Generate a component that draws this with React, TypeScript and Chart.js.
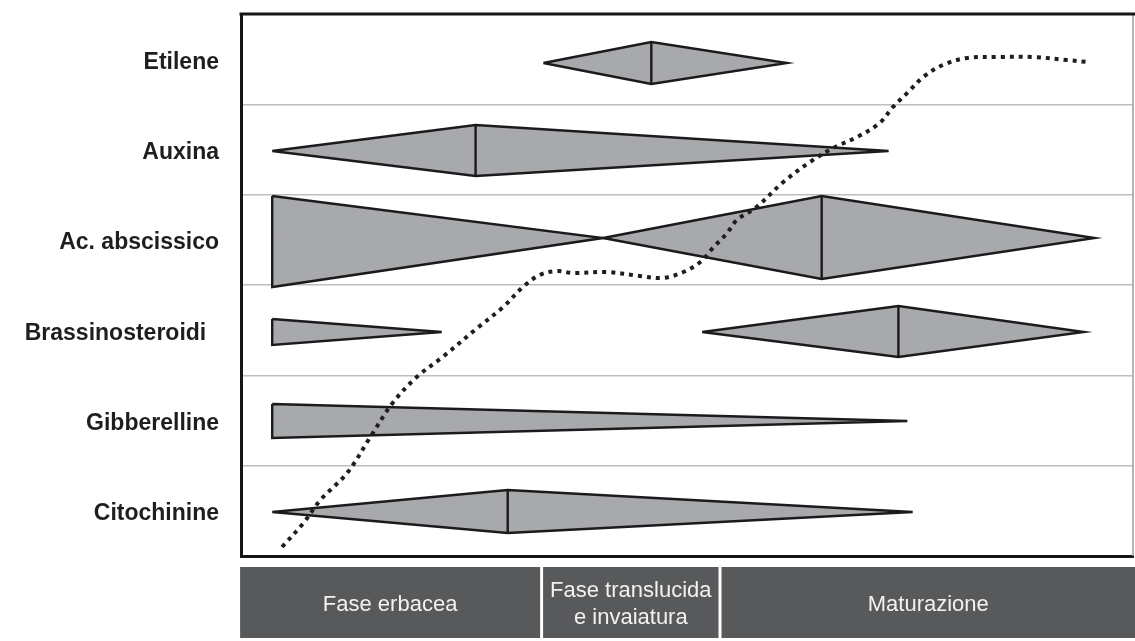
import React, { useEffect, useRef } from 'react';
import { Chart, registerables } from 'chart.js';

Chart.register(...registerables);

// Row labels (top to bottom)
const hormones = ['Etilene', 'Auxina', 'Ac. abscissico', 'Brassinosteroidi  ', 'Gibberelline', 'Citochinine'];

// Shapes, in data units: x = time (0–100), y = row axis (0–6, Etilene row 5–6 at top)
const etilenePeak: [number, number][] = [[33.9, 5.458], [46.0, 5.69], [61.2, 5.458], [46.0, 5.225]];
const auxinaPeak: [number, number][] = [[3.5, 4.484], [26.3, 4.771], [72.6, 4.484], [26.3, 4.207]];
const abscissicoEarly: [number, number][] = [[3.5, 3.985], [40.6, 3.52], [3.5, 2.978]];
const abscissicoPeak: [number, number][] = [[40.6, 3.52], [65.1, 3.985], [95.7, 3.52], [65.1, 3.067]];
const brassinoEarly: [number, number][] = [[3.5, 2.624], [22.5, 2.48], [3.5, 2.336]];
const brassinoPeak: [number, number][] = [[51.7, 2.48], [73.7, 2.768], [94.5, 2.48], [73.7, 2.203]];
const gibberellineEarly: [number, number][] = [[3.5, 1.683], [74.7, 1.495], [3.5, 1.306]];
const citochininePeak: [number, number][] = [[3.5, 0.487], [29.9, 0.731], [75.3, 0.487], [29.9, 0.255]];

// Berry growth curve (dotted)
const growthX = [4.6, 7.0, 8.9, 11.9, 14.5, 17.0, 19.7, 22.6, 26.5, 29.4, 31.6, 33.5, 35.4, 37.2, 41.0, 44.7, 47.3, 49.6, 51.5, 52.9, 54.5, 55.6, 57.8, 60.8, 63.8, 66.4, 69.1, 71.6, 73.1, 74.7, 76.5, 78.7, 81.4, 85.1, 88.8, 92.6, 94.8];
const growthY = [0.1, 0.365, 0.62, 0.919, 1.317, 1.694, 1.982, 2.203, 2.524, 2.757, 2.978, 3.111, 3.155, 3.133, 3.144, 3.1, 3.078, 3.144, 3.255, 3.41, 3.576, 3.72, 3.864, 4.14, 4.362, 4.517, 4.639, 4.794, 4.971, 5.126, 5.303, 5.436, 5.513, 5.524, 5.524, 5.491, 5.469];

// Phases along the time axis
const phaseLabels = [['Fase erbacea'], ['Fase translucida', 'e invaiatura'], ['Maturazione']];
const phaseBounds = [-0.1, 33.7, 53.7, 100.3];

const FILL = '#a8a9ac';
const STROKE = '#1b1b1b';

function polygon(points: [number, number][]) {
  const pts = points.map(([x, y]) => ({ x, y }));
  pts.push({ ...pts[0] });
  return {
    type: 'line' as const,
    data: pts,
    borderColor: STROKE,
    borderWidth: 2.4,
    backgroundColor: FILL,
    fill: 'shape' as any,
    pointRadius: 0,
    tension: 0,
    order: 2,
  };
}

function divider(points: [number, number][]) {
  // vertical line joining top and bottom of a diamond
  return {
    type: 'line' as const,
    data: [{ x: points[1][0], y: points[1][1] }, { x: points[3][0], y: points[3][1] }],
    borderColor: STROKE,
    borderWidth: 2.4,
    fill: false,
    pointRadius: 0,
    tension: 0,
    order: 1,
  };
}

const framePlugin = {
  id: 'frameAndPhases',
  afterDraw(chart: any) {
    const { ctx, chartArea: a, scales } = chart;
    const x = scales.x;
    ctx.save();
    ctx.strokeStyle = '#9c9c9e';
    ctx.lineWidth = 1.5;
    ctx.beginPath();
    ctx.moveTo(a.right, a.top);
    ctx.lineTo(a.right, a.bottom);
    ctx.stroke();
    ctx.strokeStyle = '#161616';
    ctx.lineWidth = 3;
    ctx.beginPath();
    ctx.moveTo(a.left - 1.5, a.top);
    ctx.lineTo(chart.width, a.top);
    ctx.stroke();

    const top = a.bottom + 11;
    const bottom = a.bottom + 82;
    ctx.font = '22px "Liberation Sans", Arial, sans-serif';
    ctx.textAlign = 'center';
    ctx.textBaseline = 'middle';
    for (let i = 0; i < phaseLabels.length; i++) {
      const l = x.getPixelForValue(phaseBounds[i]) + (i === 0 ? 0 : 1.5);
      const r = Math.min(chart.width, x.getPixelForValue(phaseBounds[i + 1]) - (i === phaseLabels.length - 1 ? 0 : 1.5));
      ctx.fillStyle = '#58595b';
      ctx.fillRect(l, top, r - l, bottom - top);
      ctx.fillStyle = '#f2f2f2';
      const lines = phaseLabels[i];
      const cy = (top + bottom) / 2 + 2;
      const lh = 27;
      lines.forEach((t, j) => {
        ctx.fillText(t, (l + r) / 2, cy + (j - (lines.length - 1) / 2) * lh);
      });
    }
    ctx.restore();
  },
};

export default function App() {
  const ref = useRef<HTMLCanvasElement>(null);
  useEffect(() => {
    if (!ref.current) return;
    const shapes = [etilenePeak, auxinaPeak, abscissicoEarly, abscissicoPeak, brassinoEarly, brassinoPeak, gibberellineEarly, citochininePeak];
    const diamonds = [etilenePeak, auxinaPeak, abscissicoPeak, brassinoPeak, citochininePeak];
    const datasets: any[] = [
      {
        type: 'line',
        data: growthX.map((x, i) => ({ x, y: growthY[i] })),
        borderColor: '#1e1e1e',
        borderWidth: 4,
        borderDash: [4, 5],
        borderCapStyle: 'butt',
        fill: false,
        pointRadius: 0,
        tension: 0.35,
        order: 0,
      },
      ...diamonds.map(divider),
      ...shapes.map(polygon),
    ];
    const chart = new Chart(ref.current, {
      type: 'line',
      data: { datasets },
      options: {
        animation: false,
        responsive: true,
        maintainAspectRatio: false,
        layout: { padding: { top: 14, right: 2, bottom: 85, left: 0 } },
        plugins: { legend: { display: false }, tooltip: { enabled: false } },
        scales: {
          x: {
            type: 'linear',
            min: 0,
            max: 100,
            ticks: { display: false },
            grid: { display: false, drawTicks: false },
            border: { display: true, color: '#161616', width: 3 },
          },
          y: {
            type: 'linear',
            min: 0,
            max: 6,
            afterBuildTicks: (scale: any) => {
              const t = [];
              for (let v = 0; v <= 12; v++) t.push({ value: v / 2 });
              scale.ticks = t;
            },
            afterFit: (scale: any) => {
              scale.width = 241;
              scale.paddingTop = 0;
              scale.paddingBottom = 0;
            },
            ticks: {
              padding: 22,
              labelOffset: 3,
              color: '#1e1e1e',
              font: { family: '"Liberation Sans", Arial, sans-serif', size: 23, weight: 'bold' },
              callback: (value: any) => {
                const v = Number(value);
                if (Number.isInteger(v)) return '';
                return hormones[5 - Math.floor(v)];
              },
            },
            grid: {
              drawTicks: false,
              lineWidth: 1.5,
              color: (c: any) => {
                const v = c.tick ? c.tick.value : -1;
                return Number.isInteger(v) && v > 0 && v < 6 ? '#bebec0' : 'rgba(0,0,0,0)';
              },
            },
            border: { display: true, color: '#161616', width: 3 },
          },
        },
      },
      plugins: [framePlugin],
    });
    return () => chart.destroy();
  }, []);
  return (
    <div style={{ position: 'fixed', left: 0, top: 0, width: 1135, height: 641, background: '#fff' }}>
      <canvas ref={ref} />
    </div>
  );
}
